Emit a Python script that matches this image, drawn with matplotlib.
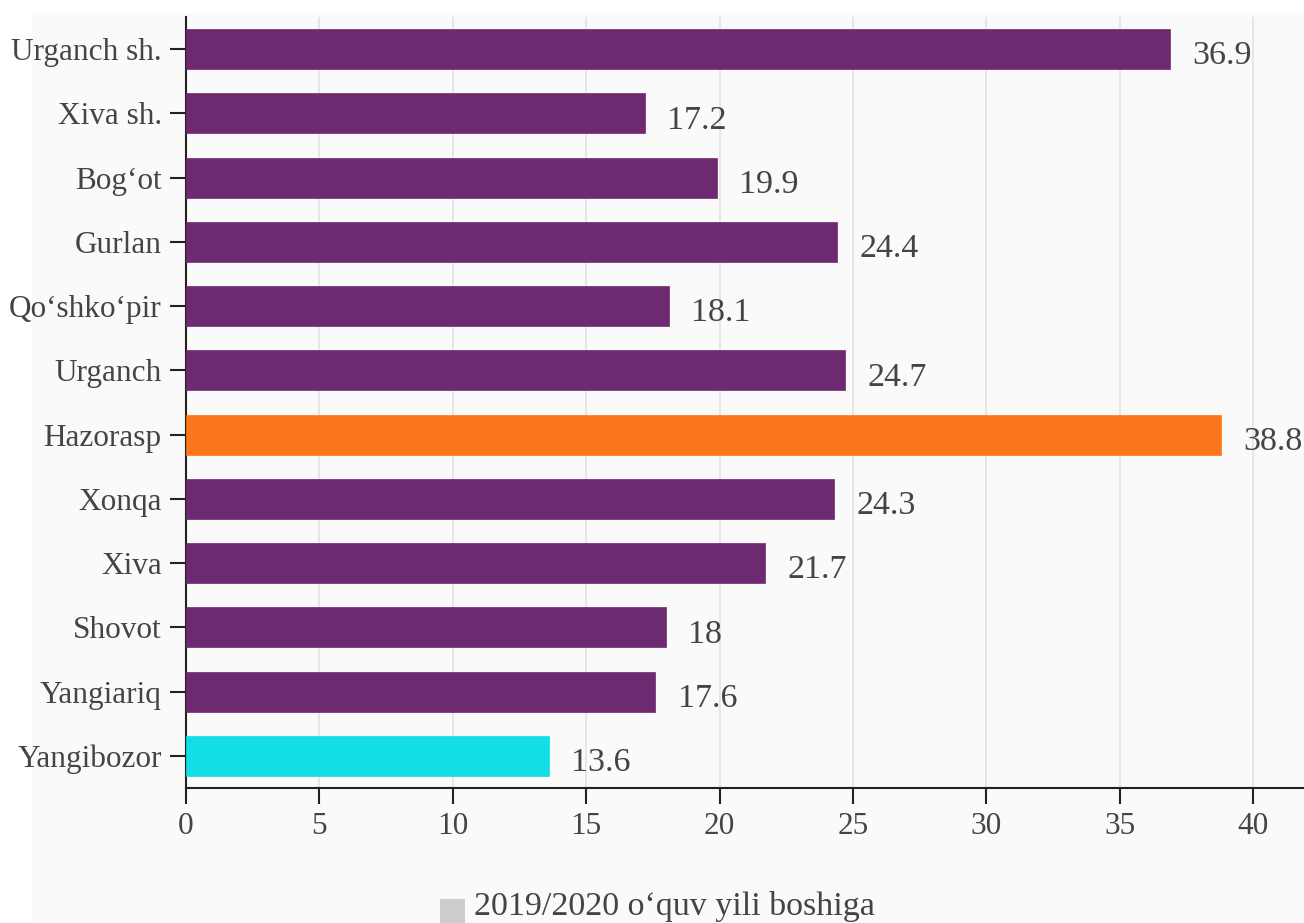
import matplotlib.pyplot as plt
from matplotlib.patches import Rectangle

# Ma'lumotlar
tumanlar = ['Urganch sh.', 'Xiva sh.', 'Bog‘ot', 'Gurlan', 'Qo‘shko‘pir', 'Urganch',
            'Hazorasp', 'Xonqa', 'Xiva', 'Shovot', 'Yangiariq', 'Yangibozor']
qiymatlar = [36.9, 17.2, 19.9, 24.4, 18.1, 24.7, 38.8, 24.3, 21.7, 18, 17.6, 13.6]
yorliqlar = ['36.9', '17.2', '19.9', '24.4', '18.1', '24.7', '38.8', '24.3', '21.7', '18', '17.6', '13.6']
legenda = '2019/2020 o‘quv yili boshiga'

binafsha = '#6e2a70'
ranglar = [binafsha] * len(tumanlar)
ranglar[qiymatlar.index(max(qiymatlar))] = '#fb771d'
ranglar[qiymatlar.index(min(qiymatlar))] = '#12dfe5'

plt.rcParams['font.family'] = ['Liberation Serif', 'DejaVu Serif']
matn_rang = '#444444'

fig = plt.figure(figsize=(13.04, 9.23), dpi=100)
fig.patch.set_facecolor('white')
# och kulrang fon
fig.patches.append(Rectangle((32 / 1304, 0), 1, 1 - 13 / 923, transform=fig.transFigure,
                             facecolor='#fafafa', edgecolor='none', zorder=-5))

ax = fig.add_axes([186 / 1304, 1 - 788 / 923, 1 - 186 / 1304, (788 - 17) / 923])
ax.set_facecolor('none')

y = list(range(len(tumanlar)))
ax.barh(y, qiymatlar, height=0.62, color=ranglar, edgecolor=ranglar, linewidth=0.5, zorder=3)
for yi, v, t in zip(y, qiymatlar, yorliqlar):
    ax.annotate(t, (v, yi), xytext=(16, -5), textcoords='offset points',
                ha='left', va='center', fontsize=24.5, color=matn_rang, zorder=4)

ax.set_yticks(y)
ax.set_yticklabels(tumanlar)
ax.set_ylim(len(tumanlar) - 0.5, -0.5)
ax.set_xlim(0, (1304 - 186) / ((1253 - 186) / 40))
ax.set_xticks(range(0, 45, 5))

ax.grid(axis='x', color='#e3e3e3', linewidth=1.2, zorder=0)
ax.set_axisbelow(True)
for s in ['top', 'right']:
    ax.spines[s].set_visible(False)
for s in ['left', 'bottom']:
    ax.spines[s].set_color('#222222')
    ax.spines[s].set_linewidth(1.5)

ax.tick_params(axis='y', length=11.5, width=1.5, color='#222222', labelsize=22.5,
               labelcolor=matn_rang, pad=6)
ax.tick_params(axis='x', length=11.5, width=1.5, color='#222222', labelsize=22.5,
               labelcolor=matn_rang, pad=6)

# legenda
fig.patches.append(Rectangle((440 / 1304, 0), 25 / 1304, 24 / 923, transform=fig.transFigure,
                             facecolor='#cccccc', edgecolor='none', zorder=5))
fig.text(474 / 1304, 8 / 923, legenda, ha='left', va='baseline', fontsize=24.5, color=matn_rang)

plt.savefig('out.png', dpi=100)
